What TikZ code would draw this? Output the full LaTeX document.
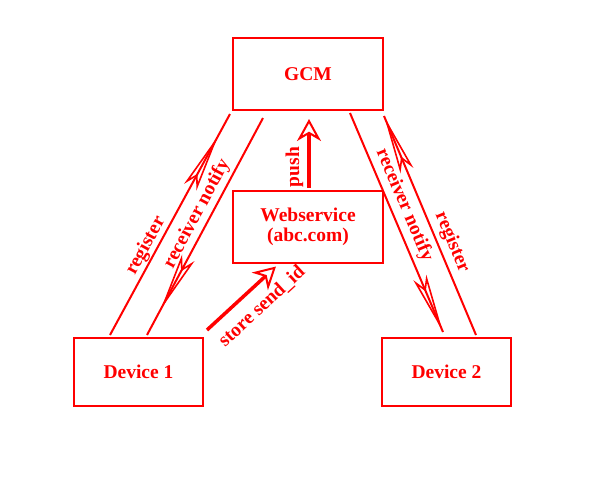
\documentclass[tikz,border=0pt]{standalone}
\usepackage{fontspec}
\setmainfont{Liberation Serif}
\usetikzlibrary{arrows.meta,calc,decorations.markings}

\tikzset{
    thin tip/.tip={Stealth[open, length=58pt, width=14pt, inset=12pt, line width=1.6pt]},
    fat tip/.tip={Stealth[open, fill=white, length=22pt, width=24pt, inset=7pt, line width=2pt]},
}

\begin{document}
\begin{tikzpicture}[
    x=1pt, y=-1pt,
    font=\fontsize{19.5}{20}\selectfont\bfseries,
    every node/.style={text=red},
    box/.style={draw=red, line width=2pt, minimum width=150pt, minimum height=72pt,
                align=center, inner sep=0pt},
    dev/.style={box, minimum width=129pt, minimum height=68pt},
    link/.style={draw=red, line width=2pt},
    tipat/.style={postaction=decorate,
                  decoration={markings, mark=at position #1 with {\arrow[red]{thin tip}}}},
    push/.style={draw=red, line width=3.5pt, -{fat tip[red]}},
    lbl/.style={sloped, inner sep=1pt},
]

% ---- Canvas -------------------------------------------------------
\path[use as bounding box, fill=white] (0,0) rectangle (600,480);

% ---- Boxes --------------------------------------------------------
\node[box] (gcm) at (308,74) {GCM};
\node[box] (web) at (308,226.5) {Webservice\\(abc.com)};
\node[dev] (dev1) at (138.5,372) {Device 1};
\node[dev] (dev2) at (446.5,372) {Device 2};

% ---- Device 1 <-> GCM ---------------------------------------------
\draw[link, tipat=0.9] ($(dev1.north west)+(37,-2)$) -- ($(gcm.south west)+(-2,3)$)
    node[lbl, pos=0.38, above=0pt] {register};
\draw[link, tipat=0.88] ($(gcm.south west)+(31,7)$) -- ($(dev1.north west)+(74,-2)$)
    node[lbl, pos=0.47, above=2pt] {receiver notify};

% ---- GCM <-> Device 2 ---------------------------------------------
\draw[link, tipat=0.995] ($(gcm.south east)+(-34,2)$) -- ($(dev2.north west)+(62,-5)$)
    node[lbl, pos=0.445, above=3pt] {receiver notify};
\draw[link, tipat=0.995] ($(dev2.north west)+(95,-2)$) -- ($(gcm.south east)+(0,5)$)
    node[lbl, pos=0.40, above=3pt] {register};

% ---- Webservice ---------------------------------------------------
\draw[push] ($(web.north)+(1,-2)$) -- ($(gcm.south)+(1,8)$)
    node[lbl, pos=0.3, above=3pt] {push};
\draw[push] ($(dev1.north east)+(3,-7)$) -- ($(web.south west)+(44,3)$)
    node[lbl, pos=0.6, below=9pt] {store send\_id};

\end{tikzpicture}
\end{document}
